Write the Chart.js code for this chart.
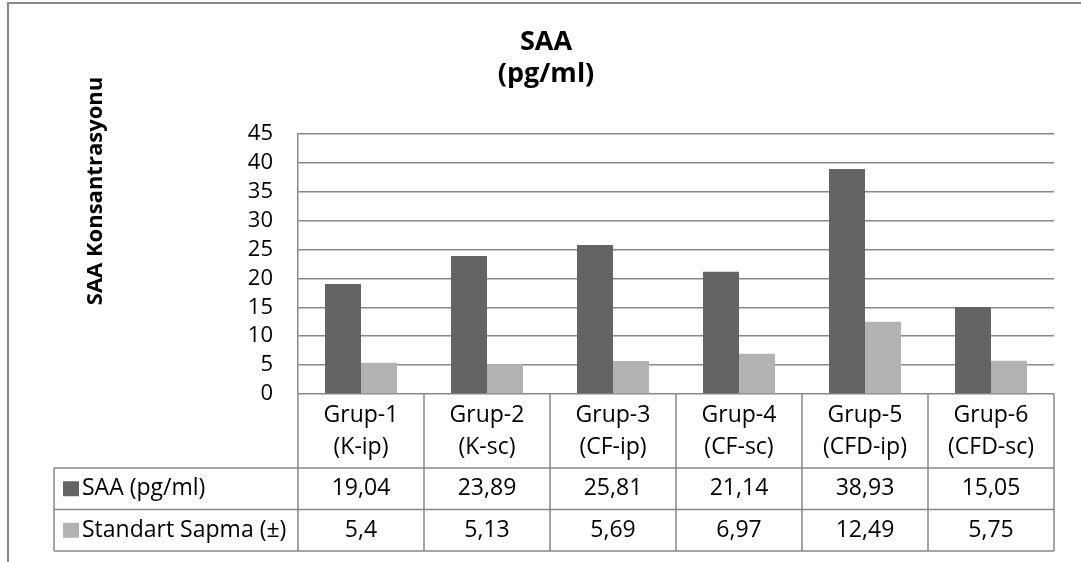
<!DOCTYPE html>
<html>
<head>
<meta charset="utf-8">
<script src="https://cdn.jsdelivr.net/npm/chart.js@4"></script>
<style>
  html, body { margin: 0; padding: 0; background: #fff; }
  #wrap { width: 1081px; height: 562px; position: relative; }
</style>
</head>
<body>
<div id="wrap"><canvas id="chart" width="1081" height="562"></canvas></div>
<script>
const groupNames = ["Grup-1", "Grup-2", "Grup-3", "Grup-4", "Grup-5", "Grup-6"];
const groupCodes = ["(K-ip)", "(K-sc)", "(CF-ip)", "(CF-sc)", "(CFD-ip)", "(CFD-sc)"];
const saaValues = [19.04, 23.89, 25.81, 21.14, 38.93, 15.05];
const sdValues = [5.4, 5.13, 5.69, 6.97, 12.49, 5.75];
const seriesNames = ["SAA (pg/ml)", "Standart Sapma (±)"];
const seriesColors = ["#646464", "#b2b2b2"];
const chartTitle = ["SAA", "(pg/ml)"];
const yTitle = "SAA Konsantrasyonu";

const lineColor = "#888888";
const fontFamily = "'Open Sans', sans-serif";

function fmt(v) {
  return String(v).replace(".", ",");
}

// frame, titles and the data table under the plot
const extrasPlugin = {
  id: "extras",
  beforeDraw(chart) {
    const ctx = chart.ctx;
    ctx.save();
    ctx.strokeStyle = lineColor;
    ctx.lineWidth = 2;
    ctx.strokeRect(8, 3, 1200, 700);
    ctx.restore();
  },
  afterDraw(chart) {
    const { ctx, chartArea } = chart;
    const n = groupNames.length;
    const colW = (chartArea.right - chartArea.left) / n;
    const top = chartArea.bottom;
    const headH = 74;
    const rowH = 41.5;
    const legendLeft = 54;
    const left = chartArea.left;
    const right = chartArea.right;

    ctx.save();
    ctx.fillStyle = "#000";
    ctx.textAlign = "center";
    ctx.textBaseline = "middle";

    // chart title
    ctx.font = "bold 27px " + fontFamily;
    ctx.fillText(chartTitle[0], 546, 42);
    ctx.fillText(chartTitle[1], 546, 74);

    // y title
    ctx.save();
    ctx.translate(96, 191);
    ctx.rotate(-Math.PI / 2);
    ctx.font = "bold 22px " + fontFamily;
    ctx.fillText(yTitle, 0, 0);
    ctx.restore();

    // grid of the table
    ctx.strokeStyle = lineColor;
    ctx.lineWidth = 1.5;
    ctx.beginPath();
    for (let i = 0; i <= n; i++) {
      const xx = left + i * colW;
      ctx.moveTo(xx, top);
      ctx.lineTo(xx, top + headH + rowH * 2);
    }
    ctx.moveTo(legendLeft, top + headH);
    ctx.lineTo(legendLeft, top + headH + rowH * 2);
    for (let r = 0; r <= 2; r++) {
      const yy = top + headH + r * rowH;
      ctx.moveTo(legendLeft, yy);
      ctx.lineTo(right, yy);
    }
    ctx.stroke();

    ctx.font = "23px " + fontFamily;
    const x = chart.scales.x;
    for (let i = 0; i < n; i++) {
      const cx = x.getPixelForValue(i);
      ctx.fillText(groupNames[i], cx, top + 21);
      ctx.fillText(groupCodes[i], cx, top + 53);
      ctx.fillText(fmt(saaValues[i]), cx, top + headH + rowH / 2);
      ctx.fillText(fmt(sdValues[i]), cx, top + headH + rowH * 1.5);
    }

    // legend keys
    ctx.textAlign = "left";
    for (let r = 0; r < 2; r++) {
      const cy = top + headH + rowH * (r + 0.5);
      ctx.fillStyle = seriesColors[r];
      ctx.fillRect(63, cy - 7.5, 16, 15);
      ctx.fillStyle = "#000";
      ctx.fillText(seriesNames[r], 82, cy);
    }
    ctx.restore();
  }
};

const ctx = document.getElementById("chart").getContext("2d");
new Chart(ctx, {
  type: "bar",
  data: {
    labels: groupNames,
    datasets: [
      { label: seriesNames[0], data: saaValues, backgroundColor: seriesColors[0] },
      { label: seriesNames[1], data: sdValues, backgroundColor: seriesColors[1] }
    ]
  },
  options: {
    responsive: false,
    animation: false,
    layout: { padding: { left: 10, right: 27, top: 134, bottom: 168 } },
    datasets: {
      bar: { categoryPercentage: 72 / 126, barPercentage: 1 }
    },
    plugins: {
      legend: { display: false },
      tooltip: { enabled: false },
      title: { display: false }
    },
    scales: {
      x: {
        display: false
      },
      y: {
        min: 0,
        max: 45,
        ticks: {
          stepSize: 5,
          autoSkip: false,
          color: "#000",
          padding: 25,
          font: { family: fontFamily, size: 22 }
        },
        grid: { color: lineColor, lineWidth: 1.5, drawTicks: false },
        border: { display: true, color: lineColor, width: 1.5 },
        afterFit(scale) {
          scale.width = 288;
        }
      }
    }
  },
  plugins: [extrasPlugin]
});
</script>
</body>
</html>
